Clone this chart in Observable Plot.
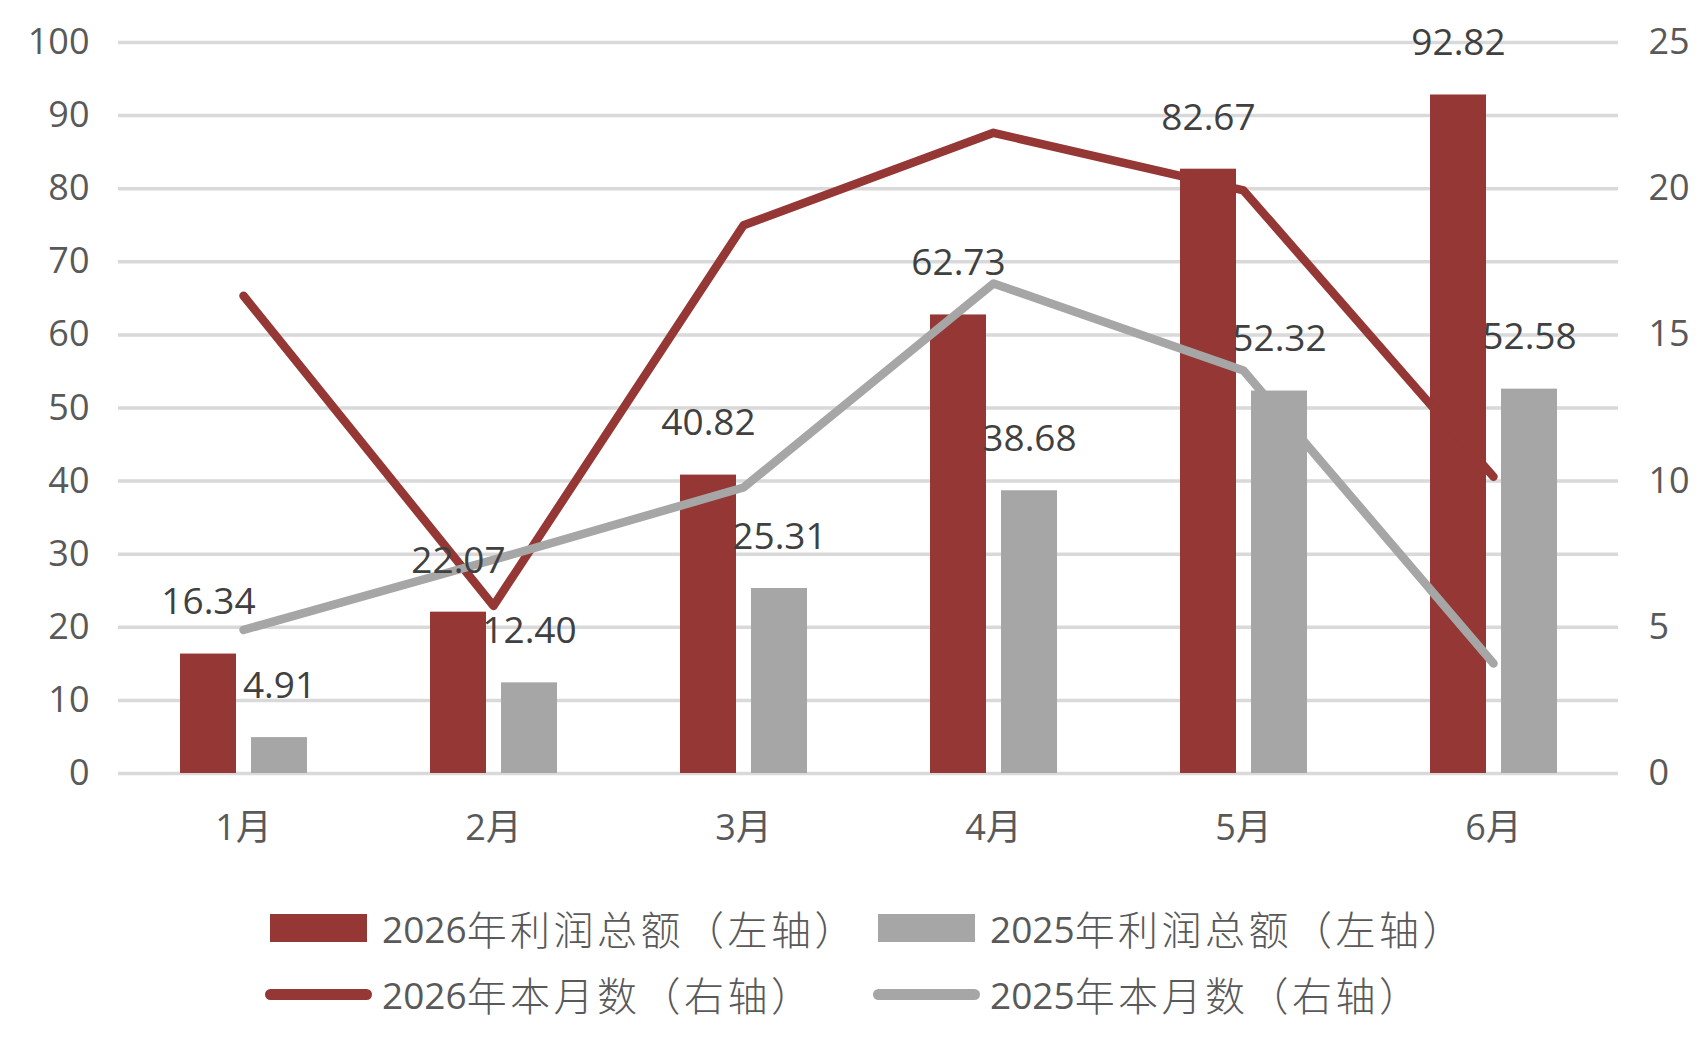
<!DOCTYPE html>
<html>
<head>
<meta charset="utf-8">
<script src="https://cdn.jsdelivr.net/npm/d3@7"></script>
<script src="https://cdn.jsdelivr.net/npm/@observablehq/plot@0.6"></script>
<style>
  html, body { margin: 0; padding: 0; background: #ffffff; }
  #chart svg { display: block; }
  #legend {
    margin-top: 15px;
    padding-left: 270px;
    display: grid;
    grid-template-columns: 608px 608px;
    grid-auto-rows: 66px;
    font-family: "Open Sans", "Noto Sans CJK SC", sans-serif;
    color: #595959;
  }
  .item { display: flex; align-items: center; white-space: nowrap; }
  .sw-bar { width: 97px; height: 28px; margin-right: 15px; flex: none; }
  .sw-line { width: 107px; height: 11px; border-radius: 5.5px; margin-left: -5px; margin-right: 10px; flex: none; }
  .num { font-family: "Open Sans", sans-serif; font-size: 37px; }
  .cjk { font-family: "Noto Sans CJK SC", sans-serif; font-size: 40px; font-weight: 300; letter-spacing: 3.5px; }
</style>
</head>
<body>
<div id="chart"></div>
<div id="legend"></div>
<script>
// ---- data ----
const months = ["1月", "2月", "3月", "4月", "5月", "6月"];
const profit2026 = [16.34, 22.07, 40.82, 62.73, 82.67, 92.82];   // 左轴
const profit2025 = [4.91, 12.40, 25.31, 38.68, 52.32, 52.58];    // 左轴
const monthly2026 = [16.34, 5.73, 18.75, 21.91, 19.94, 10.15];   // 右轴
const monthly2025 = [4.91, 7.31, 9.78, 16.76, 13.78, 3.76];      // 右轴
const leftTicks = [0, 10, 20, 30, 40, 50, 60, 70, 80, 90, 100];
const rightTicks = [0, 5, 10, 15, 20, 25];
const seriesNames = ["2026年利润总额（左轴）", "2025年利润总额（左轴）", "2026年本月数（右轴）", "2025年本月数（右轴）"];

const RED = "#953735";
const GRAY = "#a6a6a6";

const leftMax = leftTicks[leftTicks.length - 1];
const rightMax = rightTicks[rightTicks.length - 1];
const k = leftMax / rightMax;

const bars26 = months.map((m, i) => ({month: m, value: profit2026[i]}));
const bars25 = months.map((m, i) => ({month: m, value: profit2025[i]}));
const line26 = months.map((m, i) => ({month: m, value: monthly2026[i]}));
const line25 = months.map((m, i) => ({month: m, value: monthly2025[i]}));

const chart = Plot.plot({
  width: 1707,
  height: 880,
  marginLeft: 118,
  marginRight: 89,
  marginTop: 42,
  marginBottom: 107,
  style: {fontFamily: '"Open Sans", "Noto Sans CJK SC", sans-serif', fontSize: "36px", color: "#595959", background: "#ffffff", overflow: "visible"},
  x: {type: "band", domain: months, padding: 0},
  y: {domain: [0, leftMax]},
  marks: [
    Plot.gridY(leftTicks, {stroke: "#d9d9d9", strokeOpacity: 1, strokeWidth: 3.5}),
    Plot.barY(bars26, {x: "month", y: "value", fill: RED, insetLeft: 62, insetRight: 132}),
    Plot.barY(bars25, {x: "month", y: "value", fill: GRAY, insetLeft: 133, insetRight: 61}),
    Plot.lineY(line26, {x: "month", y: d => d.value * k, stroke: RED, strokeWidth: 8.5, strokeLinejoin: "round", strokeLinecap: "round"}),
    Plot.lineY(line25, {x: "month", y: d => d.value * k, stroke: GRAY, strokeWidth: 8.5, strokeLinejoin: "round", strokeLinecap: "round"}),
    Plot.text(bars26, {x: "month", y: "value", text: d => d.value.toFixed(2), dx: -35, dy: -51.5, fill: "#404040", fontSize: 37}),
    Plot.text(bars25, {x: "month", y: "value", text: d => d.value.toFixed(2), dx: 36, dy: -51.5, fill: "#404040", fontSize: 37}),
    Plot.axisY(leftTicks, {anchor: "left", tickSize: 0, tickPadding: 29, label: null, fill: "#595959"}),
    Plot.axisY(rightTicks.map(t => t * k), {anchor: "right", tickSize: 0, tickPadding: 30, tickFormat: d => String(d / k), label: null, fill: "#595959"}),
    Plot.axisX({tickSize: 0, tickPadding: 41, label: null, fill: "#595959"})
  ]
});
document.getElementById("chart").appendChild(chart);

// ---- legend ----
const legend = document.getElementById("legend");
const kinds = [
  {type: "bar", color: RED},
  {type: "bar", color: GRAY},
  {type: "line", color: RED},
  {type: "line", color: GRAY}
];
seriesNames.forEach((name, i) => {
  const item = document.createElement("div");
  item.className = "item";
  const sw = document.createElement("span");
  sw.className = kinds[i].type === "bar" ? "sw-bar" : "sw-line";
  sw.style.background = kinds[i].color;
  item.appendChild(sw);
  const m = name.match(/^(\d+)(.*)$/);
  const num = document.createElement("span");
  num.className = "num";
  num.textContent = m[1];
  const rest = document.createElement("span");
  rest.className = "cjk";
  rest.textContent = m[2];
  item.appendChild(num);
  item.appendChild(rest);
  legend.appendChild(item);
});
</script>
</body>
</html>
